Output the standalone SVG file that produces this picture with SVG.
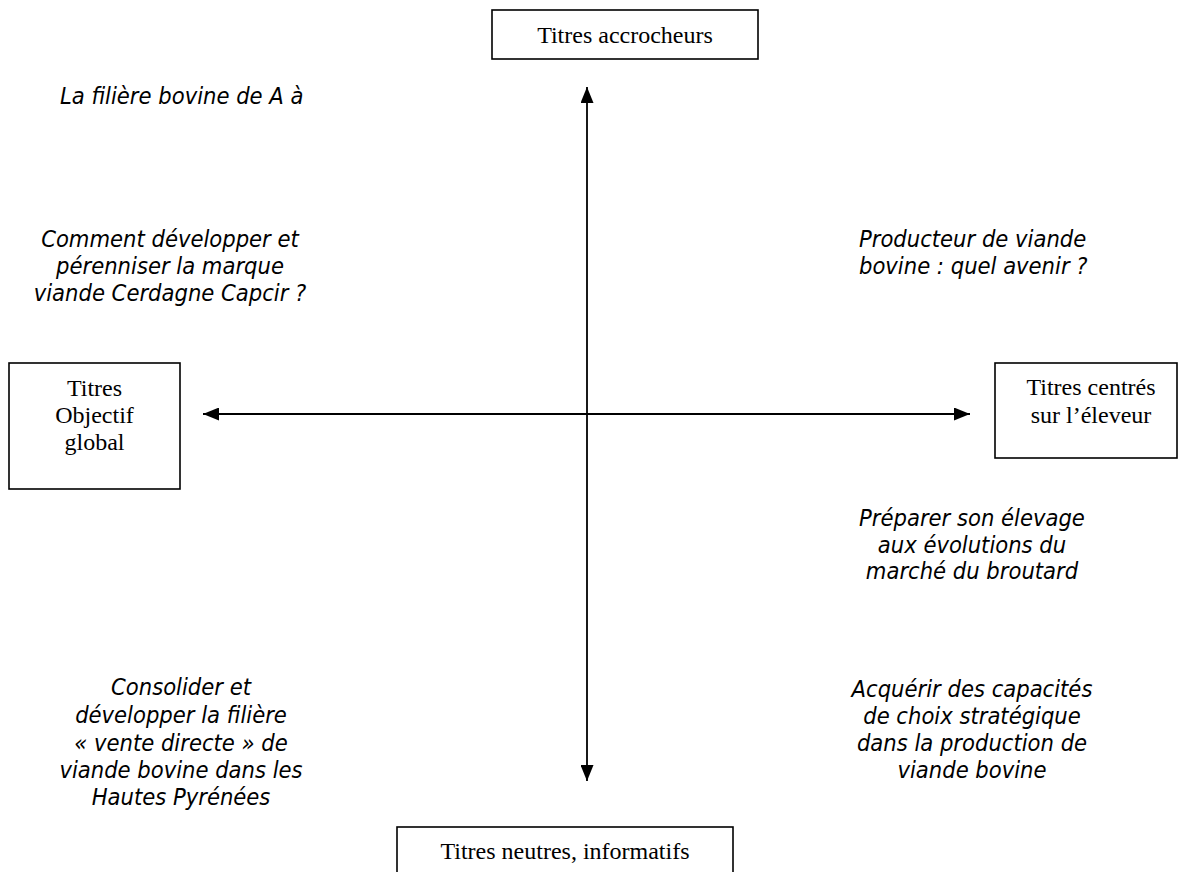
<svg xmlns="http://www.w3.org/2000/svg" width="1180" height="872" viewBox="0 0 1180 872">
<defs>
<style>
.box{fill:#fff;stroke:#000;stroke-width:1.6}
.t{font-family:"Liberation Serif","Times New Roman",serif;font-size:24px;fill:#000;text-anchor:middle}
.i{font-family:"DejaVu Sans Condensed","DejaVu Sans",sans-serif;font-style:italic;font-size:23.5px;fill:#000}
.c{text-anchor:middle}
.ax{stroke:#000;stroke-width:1.8;fill:none}
</style>
<marker id="ah" viewBox="0 0 16 13" refX="16" refY="6.5" markerWidth="16" markerHeight="13" markerUnits="userSpaceOnUse" orient="auto-start-reverse">
<path d="M0,0 L16,6.5 L0,13 Z" fill="#000"/>
</marker>
</defs>
<rect width="1180" height="872" fill="#fff"/>
<g id="connectors">
<line class="ax" x1="587" y1="87" x2="587" y2="781" marker-start="url(#ah)" marker-end="url(#ah)"/>
<line class="ax" x1="203" y1="414" x2="970" y2="414" marker-start="url(#ah)" marker-end="url(#ah)"/>
</g>
<g id="top">
<rect class="box" x="492" y="10" width="266" height="49"/>
<text class="t" x="625" y="43">Titres accrocheurs</text>
</g>
<g id="left">
<rect class="box" x="9" y="363" width="171" height="126"/>
<text class="t" x="94.5" y="396">Titres</text>
<text class="t" x="94.5" y="423">Objectif</text>
<text class="t" x="94.5" y="450">global</text>
</g>
<g id="right">
<rect class="box" x="995" y="363" width="182" height="95"/>
<text class="t" x="1091" y="395">Titres centrés</text>
<text class="t" x="1091" y="423">sur l’éleveur</text>
</g>
<g id="bottom">
<rect class="box" x="397" y="827" width="336" height="60"/>
<text class="t" x="565" y="859">Titres neutres, informatifs</text>
</g>
<g id="t1">
<text class="i" x="60" y="104">La filière bovine de A à</text>
</g>
<g id="t2">
<text class="i c" x="170" y="247">Comment développer et</text>
<text class="i c" x="170" y="274">pérenniser la marque</text>
<text class="i c" x="170" y="301">viande Cerdagne Capcir ?</text>
</g>
<g id="t3">
<text class="i" x="859" y="247">Producteur de viande</text>
<text class="i" x="859" y="274">bovine : quel avenir ?</text>
</g>
<g id="t4">
<text class="i c" x="972" y="526">Préparer son élevage</text>
<text class="i c" x="972" y="553">aux évolutions du</text>
<text class="i c" x="972" y="579">marché du broutard</text>
</g>
<g id="t5">
<text class="i c" x="181" y="695">Consolider et</text>
<text class="i c" x="181" y="723">développer la filière</text>
<text class="i c" x="181" y="751">« vente directe » de</text>
<text class="i c" x="181" y="778">viande bovine dans les</text>
<text class="i c" x="181" y="805">Hautes Pyrénées</text>
</g>
<g id="t6">
<text class="i c" x="972" y="697">Acquérir des capacités</text>
<text class="i c" x="972" y="724">de choix stratégique</text>
<text class="i c" x="972" y="751">dans la production de</text>
<text class="i c" x="972" y="778">viande bovine</text>
</g>
</svg>
